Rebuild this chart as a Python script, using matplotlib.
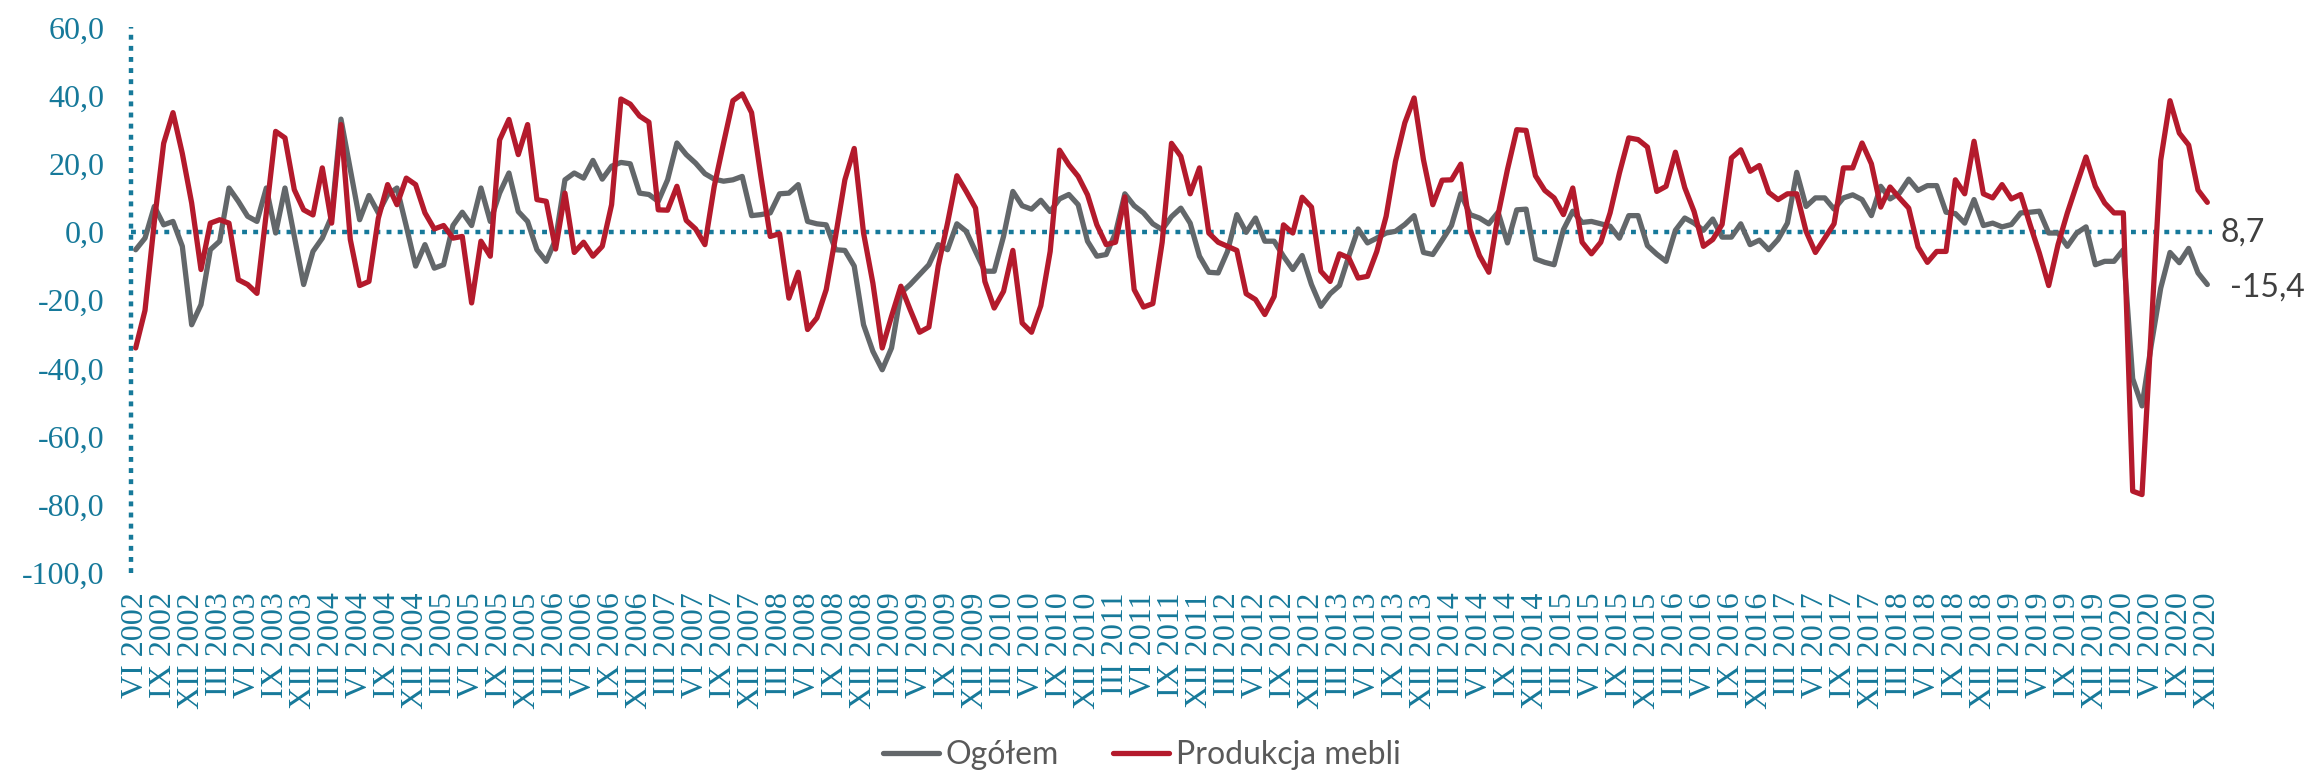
import matplotlib.pyplot as plt

# dane miesięczne VI 2002 - XII 2020
ogolem = [
    -5.2, -1.8, 7.5, 2.1, 3.1, -4.2, -27.2, -21.3, -5.2, -2.7, 12.9, 9, 4.6, 3.1, 12.9, -0.3,
    12.9, -1.3, -15.4, -5.7, -1.8, 4.6, 33.1, 18.3, 3.6, 10.7, 5.6, 10.9, 12.9, 1.7, -10, -3.7,
    -10.6, -9.6, 1.9, 5.8, 1.9, 12.9, 3.1, 11.4, 17.3, 6, 3.1, -5.2, -8.6, -2.2, 15.3, 17.3,
    15.8, 21, 15.5, 19.3, 20.4, 20, 11.4, 11, 9, 15.3, 26.1, 22.7, 20.2, 17.1, 15.5, 14.9,
    15.3, 16.3, 4.8, 5.1, 5.6, 11.2, 11.4, 13.9, 3.1, 2.4, 2.1, -5.2, -5.4, -10, -27.2, -35,
    -40.4, -34, -17.9, -15.4, -12.5, -9.6, -3.7, -5.2, 2.4, 0.2, -5.7, -11.5, -11.5, -1.3, 11.9, 7.7,
    6.7, 9.3, 6, 9.7, 11, 8, -2.7, -7.1, -6.6, -0.3, 11.2, 7.7, 5.6, 2.4, 0.7, 4.5,
    7, 2.6, -7.1, -11.8, -12, -5.7, 5.1, -0.1, 4.1, -2.7, -2.7, -7.1, -11, -6.9, -15.4, -21.8,
    -18.1, -15.7, -7.1, 0.9, -3.2, -1.8, -0.3, 0.2, 2.2, 4.8, -6, -6.6, -2.4, 1.9, 11.2, 5.1,
    4.1, 2.4, 5.8, -3.2, 6.5, 6.7, -7.9, -8.9, -9.6, 0.7, 6.1, 2.8, 3.1, 2.4, 1.7, -1.8,
    4.8, 4.8, -4, -6.5, -8.6, 0.5, 4.1, 2.6, 0.5, 3.8, -1.5, -1.5, 2.4, -3.7, -2.4, -5.2,
    -2.2, 2.6, 17.5, 7.5, 10, 10, 6.7, 10, 10.9, 9.5, 4.8, 13.4, 9.7, 11.4, 15.5, 12.2,
    13.6, 13.6, 5.8, 5.4, 2.6, 9.5, 1.9, 2.6, 1.5, 2.2, 5.6, 5.8, 6.1, -0.3, -0.3, -4.2,
    -0.3, 1.5, -9.6, -8.6, -8.6, -5.2, -43, -51, -33, -16.5, -6, -9, -4.8, -12, -15.4,
]
meble = [
    -34, -23, 3, 26, 35, 23, 8.5, -11, 2.6, 3.6, 2.6, -14, -15.4, -18, 5.6, 29.5,
    27.6, 12.4, 6.5, 5, 18.8, 2.6, 31.5, -2.2, -15.7, -14.5, 4, 13.9, 8, 15.8, 13.9, 5.6,
    0.9, 1.9, -1.8, -1.3, -20.8, -2.7, -7.1, 27, 33, 22.7, 31.5, 9.5, 9, -5, 11.4, -6,
    -3, -7.1, -4.2, 8, 39, 37.5, 34, 32.2, 6.5, 6.4, 13.4, 3.4, 0.9, -3.7, 13.4, 26.1,
    38.5, 40.5, 35, 16.3, -1.3, -0.5, -19.4, -11.8, -28.6, -25.2, -16.9, -1.3, 15.3, 24.5, -0.3, -15,
    -34, -24.7, -15.9, -22.8, -29.4, -27.9, -10, 2.6, 16.5, 11.9, 7, -14.5, -22.3, -17.4, -5.4, -26.7,
    -29.4, -21.6, -5.7, 24, 19.7, 16.3, 10.9, 2.1, -3.7, -3, 10.3, -16.9, -22, -21, -3, 26,
    22.2, 11.2, 18.8, -0.3, -3, -4.2, -5.4, -18.1, -19.8, -24.2, -18.9, 2.1, -0.3, 10.2, 7.3, -11.5,
    -14.5, -6.4, -7.6, -13.5, -13, -5.7, 4.6, 20.7, 32, 39.3, 21.2, 8, 15.2, 15.3, 19.9, 0.7,
    -6.9, -11.8, 5.1, 18.3, 30, 29.8, 16.5, 12.2, 10, 5.1, 12.9, -3, -6.4, -3, 5.6, 17.3,
    27.6, 27.1, 24.9, 11.9, 13.4, 23.4, 13, 6, -4.2, -2.2, 2.2, 21.7, 24.1, 17.8, 19.5, 11.6,
    9.5, 11.2, 11.2, 0.2, -6, -1.8, 2.4, 18.8, 18.8, 26.1, 20, 7.3, 13.2, 10, 7, -4.4,
    -8.9, -5.7, -5.7, 15.3, 11.2, 26.6, 11.2, 10, 13.9, 9.7, 11, 2.2, -6.2, -15.7, -3.7, 5.6,
    13.9, 22, 13.4, 8.5, 5.6, 5.6, -76, -77, -28, 21, 38.5, 29, 25.5, 12.3, 8.7,
]
miesiace = ['VI', 'IX', 'XII', 'III']
yticks = [-100, -80, -60, -40, -20, 0, 20, 40, 60]

teal = '#16799A'
szary = '#63676A'
czerwony = '#B41A2C'
kropki = (0, (1.1, 1.4))

x = list(range(len(meble)))
etykiety = []
for k in range(0, len(meble), 3):
    m = miesiace[k // 3 % 4]
    rok = 2002 + (k + 5) // 12
    etykiety.append(f'{m} {rok}')

fig = plt.figure(figsize=(23.23, 7.76), dpi=100)
ax = fig.add_axes([131 / 2323, 1 - 573 / 776, (2212 - 131) / 2323, (573 - 27.4) / 776])

ax.axhline(0, color=teal, lw=3.2, ls=kropki, zorder=1)
ax.axvline(-0.5, color=teal, lw=3.2, ls=kropki, clip_on=False, zorder=1)

l1, = ax.plot(x, ogolem, color=szary, lw=3.8, solid_joinstyle='round',
              solid_capstyle='round', label='Ogółem', zorder=2)
l2, = ax.plot(x, meble, color=czerwony, lw=3.8, solid_joinstyle='round',
              solid_capstyle='round', label='Produkcja mebli', zorder=3)

ax.set_xlim(-0.5, len(meble) - 0.5)
ax.set_ylim(-100, 60)
for s in ax.spines.values():
    s.set_visible(False)

ax.set_yticks(yticks)
ax.set_yticklabels([f'{v:.1f}'.replace('.', ',') for v in yticks],
                   family='Liberation Serif', fontsize=23, color=teal)
ax.set_xticks(range(0, len(meble), 3))
ax.set_xticklabels(etykiety, rotation=90, family='Liberation Serif', fontsize=23, color=teal)
ax.tick_params(axis='y', length=0, pad=19)
ax.tick_params(axis='x', length=0, pad=14)

# etykiety ostatnich wartości
ax.annotate(f'{meble[-1]:.1f}'.replace('.', ','), xy=(x[-1], meble[-1]), xytext=(13, -30),
            textcoords='offset pixels', ha='left', va='center', fontsize=23,
            family='Lato', color='#404040')
ax.annotate(f'{ogolem[-1]:.1f}'.replace('.', ','), xy=(x[-1], ogolem[-1]), xytext=(23, -3),
            textcoords='offset pixels', ha='left', va='center', fontsize=23,
            family='Lato', color='#404040')

leg = fig.legend(handles=[l1, l2], loc='center', bbox_to_anchor=(1142 / 2323, 1 - 755 / 776),
                 ncol=2, frameon=False, prop={'family': 'Lato', 'size': 23},
                 handlelength=1.75, handletextpad=0.2, columnspacing=1.7)
for t in leg.get_texts():
    t.set_color('#595959')

fig.savefig('out.png', dpi=100)
